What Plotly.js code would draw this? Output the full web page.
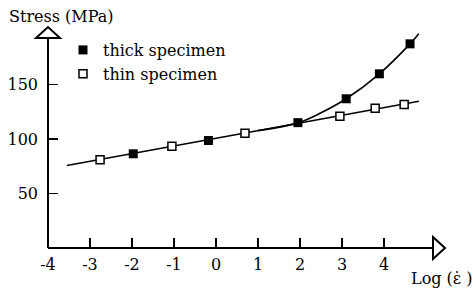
<!DOCTYPE html>
<html>
<head>
<meta charset="utf-8">
<script src="https://cdn.plot.ly/plotly-3.0.1.min.js"></script>
<style>
  html, body { margin: 0; padding: 0; background: #fff; }
  #chart { width: 476px; height: 290px; }
</style>
</head>
<body>
<div id="chart"></div>
<script>
// ---- data ----
const thickX = [-1.97, -0.18, 1.95, 3.10, 3.89, 4.62];
const thickY = [86.4, 98.6, 115.0, 136.9, 159.8, 187.3];
const thinX  = [-2.76, -1.05, 0.69, 2.95, 3.79, 4.48];
const thinY  = [80.9, 93.4, 105.3, 120.9, 128.3, 131.7];
// drawn curves
const thinLineX = [-3.55, 4.83];
const thinLineY = [75.7, 134.7];
const thickCurveX = [1.0, 1.95, 2.5, 3.10, 3.89, 4.62, 4.83];
const thickCurveY = [107.7, 114.8, 124.0, 136.9, 159.8, 187.3, 196.5];
const xTicks = [-4, -3, -2, -1, 0, 1, 2, 3, 4];
const xTickText = ['-4', '-3', '-2', '-1', '0', '1', '2', '3', '4'];
const yTicks = [50, 100, 150];
const yTickText = ['50', '100', '150'];
const seriesNames = ['thick specimen', 'thin specimen'];

// ---- layout geometry (pixels) ----
const L = 48, R = 31, T = 26, B = 42;
const W = 476 - L - R, H = 290 - T - B;
const px = x => (x - L) / W;          // pixel x -> paper
const py = y => (290 - B - y) / H;    // pixel y -> paper

const font = {family: 'DejaVu Serif', size: 16, color: '#000'};

const traces = [
  {x: thinLineX, y: thinLineY, mode: 'lines', line: {color: '#000', width: 1.6}, showlegend: false, hoverinfo: 'skip'},
  {x: thickCurveX, y: thickCurveY, mode: 'lines', line: {color: '#000', width: 1.6, shape: 'spline', smoothing: 1}, showlegend: false, hoverinfo: 'skip'},
  {x: thickX, y: thickY, mode: 'markers', name: seriesNames[0],
   marker: {symbol: 'square', size: 9, color: '#000', line: {color: '#000', width: 0}}},
  {x: thinX, y: thinY, mode: 'markers', name: seriesNames[1],
   marker: {symbol: 'square', size: 8, color: '#fff', line: {color: '#000', width: 1.5}}}
];

const layout = {
  width: 476, height: 290,
  margin: {l: L, r: R, t: T, b: B, pad: 0},
  paper_bgcolor: '#fff', plot_bgcolor: '#fff',
  font: font,
  showlegend: true,
  legend: {
    x: px(63), y: py(33), xanchor: 'left', yanchor: 'top',
    bgcolor: 'rgba(0,0,0,0)', font: font, itemwidth: 30, tracegroupgap: 0
  },
  xaxis: {
    range: [-4, -4 + W / 42], showgrid: false, zeroline: false, showline: false,
    tickmode: 'array', tickvals: xTicks, ticktext: xTickText,
    ticks: 'inside', ticklen: 10, tickwidth: 1.8, tickcolor: '#000',
    tickfont: font, ticklabelstandoff: 5, fixedrange: true
  },
  yaxis: {
    range: [0, H / 1.09], showgrid: false, zeroline: false, showline: false,
    tickmode: 'array', tickvals: yTicks, ticktext: yTickText,
    ticks: 'inside', ticklen: 10, tickwidth: 1.8, tickcolor: '#000',
    tickfont: font, ticklabelstandoff: 9, fixedrange: true
  },
  shapes: [
    {type: 'line', xref: 'paper', yref: 'paper', x0: px(48), x1: px(433), y0: py(248), y1: py(248), line: {color: '#000', width: 2}},
    {type: 'path', xref: 'paper', yref: 'paper',
     path: `M ${px(433)} ${py(237)} L ${px(445)} ${py(248)} L ${px(433)} ${py(259)} Z`,
     fillcolor: '#fff', line: {color: '#000', width: 2}},
    {type: 'line', xref: 'paper', yref: 'paper', x0: px(48), x1: px(48), y0: py(248), y1: py(38), line: {color: '#000', width: 2}},
    {type: 'path', xref: 'paper', yref: 'paper',
     path: `M ${px(36)} ${py(38)} L ${px(48)} ${py(27)} L ${px(60)} ${py(38)} Z`,
     fillcolor: '#fff', line: {color: '#000', width: 2}}
  ],
  annotations: [
    {text: 'Stress (MPa)', xref: 'paper', yref: 'paper', x: px(7), y: py(16),
     xanchor: 'left', yanchor: 'middle', showarrow: false, font: font},
    {text: 'Log (\u03B5\u0307 )', xref: 'paper', yref: 'paper', x: px(474), y: py(278),
     xanchor: 'right', yanchor: 'middle', showarrow: false, font: font}
  ]
};

Plotly.newPlot('chart', traces, layout, {displayModeBar: false, staticPlot: true});
</script>
</body>
</html>
